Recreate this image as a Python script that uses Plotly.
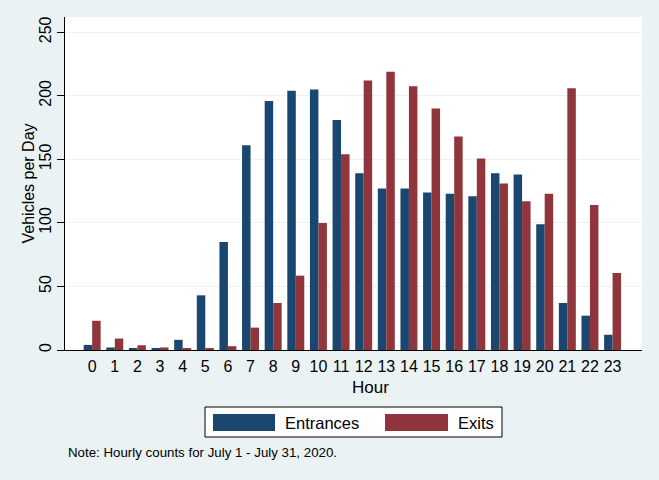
import plotly.graph_objects as go

hours = [str(h) for h in range(24)]
entrances = [4, 2, 1.5, 1.5, 8, 43, 85, 161, 196, 204, 205, 181, 139, 127, 127, 124, 123, 121, 139, 138, 99, 37, 27, 12]
exits = [23, 9, 3.7, 2, 1.5, 1.5, 3, 17.6, 37, 58.5, 100, 154, 212, 219, 207.6, 190, 168, 150.6, 131, 117, 123, 206, 114, 60.6]
y_ticks = [0, 50, 100, 150, 200, 250]

navy = "#1a476f"
maroon = "#90353b"
bg = "#eaf2f3"
font = "Liberation Sans, Arial, sans-serif"

fig = go.Figure()
fig.add_trace(go.Bar(x=hours, y=entrances, name="Entrances", marker=dict(color=navy, line=dict(width=0))))
fig.add_trace(go.Bar(x=hours, y=exits, name="Exits", marker=dict(color=maroon, line=dict(width=0))))

L, R, T, B = 65, 17, 17, 130
W, H = 659, 480
PW, PH = W - L - R, H - T - B

fig.update_layout(
    width=W, height=H,
    margin=dict(l=L, r=R, t=T, b=B),
    paper_bgcolor=bg, plot_bgcolor="white",
    barmode="group", bargap=0.25, bargroupgap=0,
    showlegend=False,
    font=dict(family=font, color="black", size=16),
)
fig.update_xaxes(
    type="category", range=[-1.2, 24.3], automargin=False,
    showline=True, linecolor="black", linewidth=1,
    ticks="", tickfont=dict(size=16), ticklabelstandoff=2,
    showgrid=False, zeroline=False,
)
fig.update_yaxes(
    range=[0, 262], tickvals=y_ticks, tickangle=-90, automargin=False,
    showline=True, linecolor="black", linewidth=1,
    ticks="outside", ticklen=7, tickcolor="black",
    tickfont=dict(size=16), ticklabelstandoff=0,
    showgrid=True, gridcolor=bg, gridwidth=1, zeroline=False,
)

def px(x):
    return (x - L) / PW

def py(y):
    return (H - B - y) / PH

shapes = [
    dict(type="rect", xref="paper", yref="paper",
         x0=px(205), x1=px(502), y0=py(437), y1=py(407),
         line=dict(color="black", width=1), fillcolor="white"),
    dict(type="rect", xref="paper", yref="paper",
         x0=px(213), x1=px(275), y0=py(431), y1=py(414),
         line=dict(width=0), fillcolor=navy),
    dict(type="rect", xref="paper", yref="paper",
         x0=px(385), x1=px(448), y0=py(431), y1=py(414),
         line=dict(width=0), fillcolor=maroon),
]
annotations = [
    dict(text="Vehicles per Day", xref="paper", yref="paper", x=px(28), y=py(183.5),
         xanchor="center", yanchor="middle", textangle=-90, showarrow=False, font=dict(size=16)),
    dict(text="Hour", xref="paper", yref="paper", x=px(370), y=py(387.5),
         xanchor="center", yanchor="middle", showarrow=False, font=dict(size=17)),
    dict(text="Entrances", xref="paper", yref="paper", x=px(283), y=py(423),
         xanchor="left", yanchor="middle", showarrow=False, font=dict(size=16.5)),
    dict(text="Exits", xref="paper", yref="paper", x=px(456), y=py(423),
         xanchor="left", yanchor="middle", showarrow=False, font=dict(size=16.5)),
    dict(text="Note: Hourly counts for July 1 - July 31, 2020.", xref="paper", yref="paper",
         x=px(66), y=py(452), xanchor="left", yanchor="middle", showarrow=False,
         font=dict(size=13.3)),
]
fig.update_layout(shapes=shapes, annotations=annotations)

fig.write_html("out.html", config={"displayModeBar": False},
               post_script="document.body.style.margin='0';document.body.style.padding='0';")
